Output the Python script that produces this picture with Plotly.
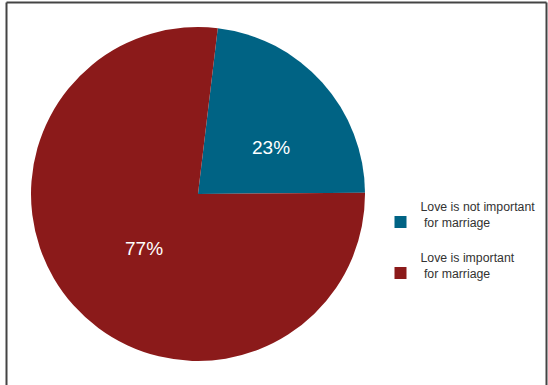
import plotly.graph_objects as go

labels = ["Love is not important<br> for marriage<br> ", "Love is important<br> for marriage<br> "]
values = [23, 77]
pct_text = [f"{v}%" for v in values]
colors = ["#006384", "#8B1A1A"]

W, H = 548, 385
cx, cy, r = 198, 194, 167
# label anchor points (pixels) for the percentage texts
label_pos = [(271, 147), (144, 248)]

fig = go.Figure(go.Pie(
    labels=labels,
    values=values,
    marker=dict(colors=colors, line=dict(width=0)),
    sort=False,
    direction="clockwise",
    rotation=6.8,
    textinfo="none",
    domain=dict(x=[(cx - r) / W, (cx + r) / W], y=[1 - (cy + r) / H, 1 - (cy - r) / H]),
    hoverinfo="label+percent",
))

annotations = [
    dict(text=t, x=px / W, y=1 - py / H, xref="paper", yref="paper",
         showarrow=False, xanchor="center", yanchor="middle",
         font=dict(color="white", size=19, family="Liberation Sans, Arial"))
    for t, (px, py) in zip(pct_text, label_pos)
]

fig.update_layout(
    width=W, height=H,
    margin=dict(l=0, r=0, t=0, b=0),
    paper_bgcolor="white",
    plot_bgcolor="white",
    font=dict(family="Liberation Sans, Arial", size=12, color="#333333"),
    showlegend=True,
    legend=dict(x=380.5 / W, y=1 - 191.5 / H, xanchor="left", yanchor="top",
                font=dict(size=12.3, color="#333333"), itemwidth=30),
    annotations=annotations,
    shapes=[
        dict(type="line", xref="paper", yref="paper", x0=6.5 / W, x1=6.5 / W, y0=0, y1=1 - 2.5 / H,
             line=dict(color="#444444", width=2)),
        dict(type="line", xref="paper", yref="paper", x0=6.5 / W, x1=546.5 / W, y0=1 - 2.5 / H, y1=1 - 2.5 / H,
             line=dict(color="#444444", width=2)),
        dict(type="line", xref="paper", yref="paper", x0=546.5 / W, x1=546.5 / W, y0=0, y1=1 - 2.5 / H,
             line=dict(color="#444444", width=2)),
    ],
)

fig.write_html("out.html")
